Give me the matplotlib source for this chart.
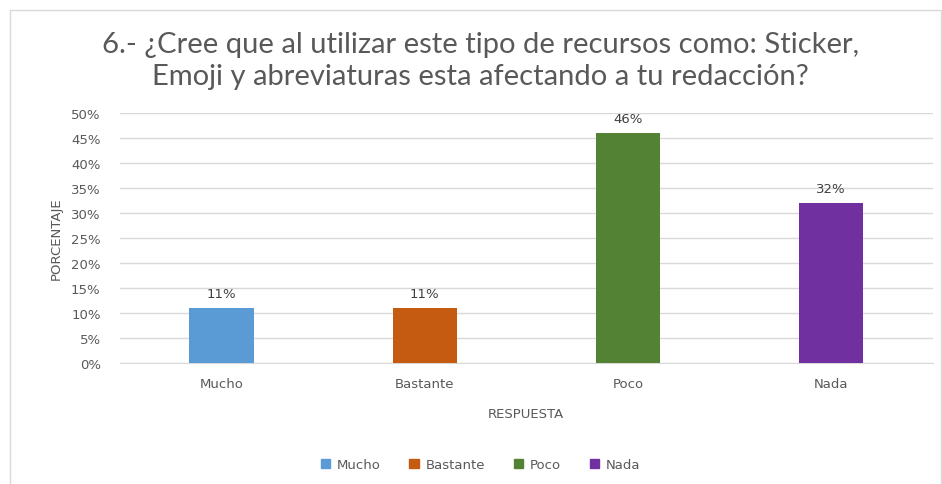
import matplotlib.pyplot as plt
from matplotlib.patches import Rectangle
from matplotlib.ticker import PercentFormatter

# Data.
categorias = ["Mucho", "Bastante", "Poco", "Nada"]
porcentajes = [11, 11, 46, 32]
colores = ["#5B9BD5", "#C55A11", "#548235", "#7030A0"]
titulo = ("6.- ¿Cree que al utilizar este tipo de recursos como: Sticker,\n"
          "Emoji y abreviaturas esta afectando a tu redacción?")

plt.rcParams["font.family"] = ["DejaVu Sans"]
gris = "#595959"

fig = plt.figure(figsize=(9.42, 4.85), dpi=100)
ax = fig.add_axes([0.1275, 0.2495, 0.8625, 0.5155])

# Chart border (light gray frame).
fig.patches.append(Rectangle((10 / 942, -0.01), 931 / 942, 1 - 11 / 485 + 0.01,
                             transform=fig.transFigure, fill=False,
                             edgecolor="#D9D9D9", linewidth=1))

x = range(len(categorias))
bars = ax.bar(x, porcentajes, width=0.317, color=colores, zorder=3)
for b, v in zip(bars, porcentajes):
    ax.text(b.get_x() + b.get_width() / 2, v + 1.5, f"{v}%",
            ha="center", va="bottom", fontsize=9.5, color="#404040")

ax.set_xlim(-0.5, len(categorias) - 0.5)
ax.set_ylim(0, 50)
ax.set_yticks(range(0, 51, 5))
ax.yaxis.set_major_formatter(PercentFormatter(decimals=0))
ax.set_xticks(list(x))
ax.set_xticklabels(categorias)
ax.grid(axis="y", color="#D9D9D9", linewidth=1, zorder=0)
for s in ["top", "right", "left"]:
    ax.spines[s].set_visible(False)
ax.spines["bottom"].set_color("#D9D9D9")
ax.tick_params(axis="both", length=0, labelsize=9.5, labelcolor=gris)
ax.tick_params(axis="y", pad=14)
ax.tick_params(axis="x", pad=10)

ax.set_xlabel("RESPUESTA", fontsize=9.5, color=gris, labelpad=12)
ax.set_ylabel("PORCENTAJE", fontsize=9.5, color=gris, labelpad=6)

fig.text(0.51, 0.874, titulo, ha="center", va="center", fontsize=21,
         color=gris, linespacing=1.3, family=["Lato", "DejaVu Sans"])

handles = [Rectangle((0, 0), 1, 1, color=c) for c in colores]
fig.legend(handles, categorias, loc="center", bbox_to_anchor=(0.51, 0.04),
           ncol=4, frameon=False, fontsize=9.5, handlelength=0.7,
           handleheight=0.7, handletextpad=0.5, columnspacing=2.2,
           labelcolor=gris)

fig.savefig("out.png", dpi=100)
